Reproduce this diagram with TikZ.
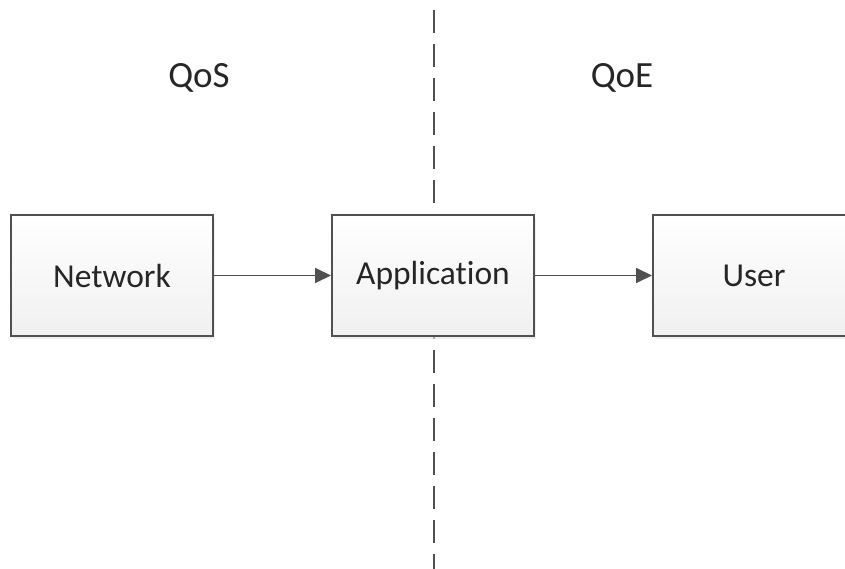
\documentclass[tikz,border=0pt]{standalone}
\usepackage{fontspec}
\setmainfont{Carlito}[RawFeature={-liga}]
\usetikzlibrary{arrows.meta,shadows}
\definecolor{edge}{HTML}{505050}
\definecolor{ink}{HTML}{262626}
\tikzset{
  block/.style={draw=edge, line width=2pt, minimum width=202pt, minimum height=121pt,
    top color=white, bottom color=black!6, inner sep=0pt,
    drop shadow={shadow xshift=2pt, shadow yshift=-3pt, fill=black!10, opacity=0.6},
    font=\fontsize{33.5}{38}\selectfont, text=ink},
  label/.style={font=\fontsize{37}{42}\selectfont, text=ink},
  link/.style={draw=edge, line width=1.8pt, -{Triangle[length=16pt,width=15pt]}},
  divider/.style={draw=edge, line width=2.4pt, dash pattern=on 23pt off 11pt}
}
\begin{document}
\begin{tikzpicture}[x=1pt,y=-1pt]
  \useasboundingbox (0,0) rectangle (845,569);
  \clip (0,0) rectangle (845,569);
  % boundary between the two domains
  \coordinate (top) at (434,10);
  \coordinate (bottom) at (434,569);
  \draw[divider] (top) -- (bottom);
  % headings
  \node[label] (qos) at (199,78) {QoS};
  \node[label] (qoe) at (622,78) {QoE};
  % chain of blocks
  \node[block] (net) at (112,275.5) {Network};
  \node[block] (app) at (433,275.5) {Application};
  \node[block] (user) at (754,275.5) {User};
  \draw[link] (net) -- (app);
  \draw[link] (app) -- (user);
\end{tikzpicture}
\end{document}
